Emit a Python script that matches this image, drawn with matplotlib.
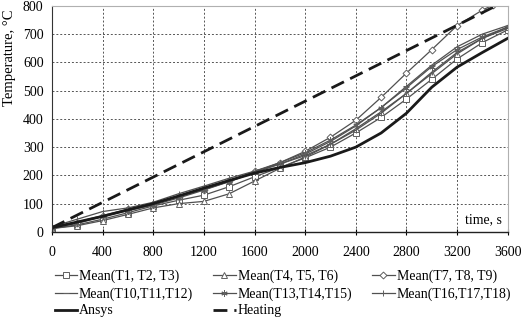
import matplotlib
matplotlib.use("Agg")
import matplotlib.pyplot as plt


# time axis, s
t = [0, 200, 400, 600, 800, 1000, 1200, 1400, 1600, 1800,
     2000, 2200, 2400, 2600, 2800, 3000, 3200, 3400, 3600]

mean_t1_t3 = [12, 25, 45, 68, 92, 112, 130, 160, 195, 228,
              262, 300, 350, 405, 470, 540, 612, 670, 715]
mean_t4_t6 = [12, 22, 40, 62, 85, 100, 108, 135, 180, 225,
              265, 310, 365, 425, 490, 560, 630, 685, 725]
mean_t10_t12 = [15, 35, 58, 80, 100, 125, 150, 178, 210, 240,
                275, 320, 375, 440, 515, 590, 655, 700, 730]
mean_t13_t15 = [15, 33, 55, 75, 95, 120, 148, 178, 212, 245,
                280, 325, 378, 440, 510, 585, 645, 690, 725]
mean_t16_t18 = [18, 45, 72, 85, 105, 135, 162, 190, 215, 240,
                270, 310, 360, 420, 490, 565, 635, 685, 720]

# the T7-T9 record stops a bit earlier
t_789 = [0, 200, 400, 600, 800, 1000, 1200, 1400, 1600, 1800,
         2000, 2200, 2400, 2600, 2800, 3000, 3200, 3400, 3480]
mean_t7_t9 = [15, 30, 55, 80, 100, 125, 150, 180, 215, 245,
              285, 335, 395, 476, 562, 645, 730, 785, 802]

ansys = [15, 35, 55, 78, 100, 127, 155, 182, 208, 228,
         245, 268, 300, 350, 420, 512, 583, 635, 685]

t_heat = [0, 3490]
heating = [15, 796]

xticks = list(range(0, 3601, 400))
yticks = list(range(0, 801, 100))


def main():
    plt.rcParams["font.family"] = ["Liberation Serif", "DejaVu Serif"]

    fig = plt.figure(figsize=(5.30, 3.23), dpi=100)
    ax = fig.add_axes([0.098, 0.282, 0.860, 0.700])

    grey = "#505050"
    mk = dict(markersize=4.5, markerfacecolor="white", markeredgecolor="#606060",
              markeredgewidth=0.7, linewidth=0.9, color=grey)

    h1, = ax.plot(t, mean_t1_t3, marker="s", label="Mean(T1, T2, T3)", **mk)
    h2, = ax.plot(t, mean_t4_t6, marker="^", label="Mean(T4, T5, T6)", **mk)
    h3, = ax.plot(t_789, mean_t7_t9, marker="D", label="Mean(T7, T8, T9)",
                  **{**mk, "markersize": 3.5})
    h4, = ax.plot(t, mean_t10_t12, marker="_", label="Mean(T10,T11,T12)", **mk)
    h5, = ax.plot(t, mean_t13_t15, marker=(6, 2, 0), label="Mean(T13,T14,T15)", **mk)
    h6, = ax.plot(t, mean_t16_t18, marker="|", label="Mean(T16,T17,T18)", **mk)
    h7, = ax.plot(t, ansys, color="#1a1a1a", linewidth=2.0, label="Ansys")
    h8, = ax.plot(t_heat, heating, color="#1a1a1a", linewidth=2.0,
                  dashes=(5, 2.5), label="Heating")

    ax.set_xlim(0, 3600)
    ax.set_ylim(0, 800)
    ax.set_xticks(xticks)
    ax.set_yticks(yticks)
    ax.tick_params(axis="x", direction="inout", length=5, width=0.8,
                   labelsize=10, pad=8)
    ax.tick_params(axis="y", length=0, labelsize=10, pad=6)

    ax.grid(True, color="#555555", linewidth=0.7, linestyle=(0, (2, 2)))
    ax.set_axisbelow(True)

    for side in ("top", "right"):
        ax.spines[side].set_color("#b0b0b0")
        ax.spines[side].set_linewidth(0.8)
    ax.spines["left"].set_color("#333333")
    ax.spines["bottom"].set_color("#222222")
    ax.spines["bottom"].set_linewidth(1.0)

    ax.text(0.988, 0.025, "time, s", transform=ax.transAxes,
            ha="right", va="bottom", fontsize=10)

    fig.text(0.018, 0.82, "Temperature, °C", rotation=90,
             ha="center", va="center", fontsize=10.5)

    # legend laid out row-wise in 3 columns
    order = [h1, h4, h7, h2, h5, h8, h3, h6]
    fig.legend(handles=order, labels=[h.get_label() for h in order],
               loc="upper left", bbox_to_anchor=(0.103, 0.165), ncol=3,
               frameon=False, fontsize=10, handlelength=1.6,
               handletextpad=0.15, columnspacing=1.45, labelspacing=0.28,
               borderaxespad=0, borderpad=0)

    fig.savefig("out.png", dpi=100)


if __name__ == "__main__":
    main()
